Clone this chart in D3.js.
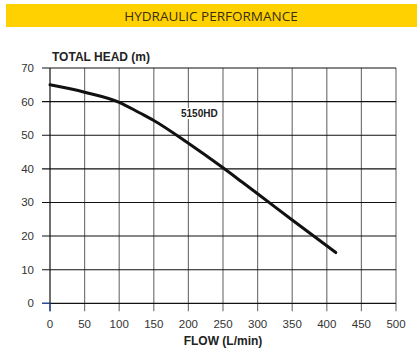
<!DOCTYPE html>
<html><head><meta charset="utf-8">
<script src="https://cdn.jsdelivr.net/npm/d3@7"></script>
<style>body{margin:0;background:#fff}svg{display:block}</style>
</head><body><svg id="c" width="420" height="358"></svg>
<script>
const flow = [0, 50, 100, 130, 150, 200, 250, 278, 300, 350, 413];
const head = [65, 62.8, 59.8, 56.6, 54.4, 47.6, 40.3, 36.0, 32.6, 24.8, 15.1];
const xTicks = [0, 50, 100, 150, 200, 250, 300, 350, 400, 450, 500];
const yTicks = [0, 10, 20, 30, 40, 50, 60, 70];
const seriesName = "5150HD";
const title = "HYDRAULIC PERFORMANCE";
const yTitle = "TOTAL HEAD (m)";
const xTitle = "FLOW (L/min)";

const svg = d3.select("#c");
const x = d3.scaleLinear().domain([0, 500]).range([50, 396]);
const y = d3.scaleLinear().domain([0, 70]).range([303.3, 68]);

svg.append("rect").attr("x", 6).attr("y", 4).attr("width", 411).attr("height", 23).attr("fill", "#FFD100");
svg.append("text").attr("x", 211).attr("y", 21).attr("text-anchor", "middle")
  .attr("font-family", "Open Sans").attr("font-size", 13.5).attr("fill", "#3a2e10").text(title);

// vertical gridlines (grey) extending below axis
svg.append("g").selectAll("line").data(xTicks.slice(1)).join("line")
  .attr("x1", d => x(d)).attr("x2", d => x(d)).attr("y1", y(70)).attr("y2", y(0) + 8)
  .attr("stroke", "#777").attr("stroke-width", 1.2);
// horizontal gridlines (black)
svg.append("g").selectAll("line").data(yTicks.slice(1)).join("line")
  .attr("x1", 42).attr("x2", x(500)).attr("y1", d => y(d)).attr("y2", d => y(d))
  .attr("stroke", "#111").attr("stroke-width", 1.1);
// axes
svg.append("line").attr("x1", 42).attr("x2", x(500)).attr("y1", y(0)).attr("y2", y(0)).attr("stroke", "#111").attr("stroke-width", 1.2);
svg.append("line").attr("x1", 42).attr("x2", 50).attr("y1", y(0)).attr("y2", y(0)).attr("stroke", "#3050b0").attr("stroke-width", 1.2);
svg.append("line").attr("x1", x(0)).attr("x2", x(0)).attr("y1", y(70)).attr("y2", y(0) + 8).attr("stroke", "#111").attr("stroke-width", 1.2);
svg.append("line").attr("x1", x(0)).attr("x2", x(0)).attr("y1", y(0)).attr("y2", y(0) + 8).attr("stroke", "#3050b0").attr("stroke-width", 1.2);

// tick labels
svg.append("g").selectAll("text").data(yTicks).join("text")
  .attr("x", 34).attr("y", d => y(d) + 4).attr("text-anchor", "end")
  .attr("font-family", "Liberation Sans, Arial").attr("font-size", 11.5).attr("fill", "#333").text(d => d);
svg.append("g").selectAll("text").data(xTicks).join("text")
  .attr("x", d => x(d)).attr("y", 328).attr("text-anchor", "middle")
  .attr("font-family", "Liberation Sans, Arial").attr("font-size", 11.5).attr("fill", "#333").text(d => d);

svg.append("text").attr("x", 52).attr("y", 61).attr("font-family", "Liberation Sans, Arial").attr("font-weight", "bold")
  .attr("font-size", 12).attr("fill", "#222").text(yTitle);
svg.append("text").attr("x", 223).attr("y", 345).attr("text-anchor", "middle").attr("font-family", "Liberation Sans, Arial").attr("font-weight", "bold")
  .attr("font-size", 12).attr("fill", "#222").text(xTitle);

// curve
const pts = flow.map((f, i) => [f, head[i]]);
svg.append("path").datum(pts)
  .attr("d", d3.line().x(d => x(d[0])).y(d => y(d[1])).curve(d3.curveMonotoneX))
  .attr("fill", "none").attr("stroke", "#111").attr("stroke-width", 3).attr("stroke-linecap", "round");

// series label
const lg = svg.append("g");
const bgRect = lg.append("rect").attr("fill", "#fff");
const lb = lg.append("text").attr("x", 181).attr("y", 117).attr("font-family", "Liberation Sans, Arial").attr("font-weight", "bold")
  .attr("font-size", 10).attr("fill", "#222").text(seriesName);
const bb = lb.node().getBBox();
bgRect.attr("x", bb.x - 1).attr("y", bb.y).attr("width", bb.width + 2).attr("height", bb.height);
</script></body></html>
